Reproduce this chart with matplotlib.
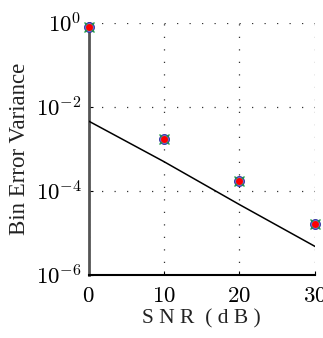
import numpy as np
import matplotlib
matplotlib.use("Agg")
import matplotlib.pyplot as plt

# data
snr = [0, 10, 20, 30]
variance = [0.80, 1.7e-3, 1.7e-4, 1.67e-5]
bound = [4.6e-3, 5.0e-4, 4.8e-5, 4.9e-6]

plt.rcParams['mathtext.fontset'] = 'cm'
plt.rcParams['font.family'] = ['Liberation Serif', 'DejaVu Serif']

fig = plt.figure(figsize=(3.23, 3.38), dpi=100)
ax = fig.add_axes([0.2746, 0.1855, 0.6997, 0.7473])

ax.semilogy(snr, bound, color='black', lw=1.1, zorder=3)
ax.semilogy(snr, variance, 'o', ms=7, mfc='#8080d0', mec='#3030a0', mew=0.8,
            linestyle='none', zorder=4, clip_on=False)
ax.semilogy(snr, variance, 'x', ms=7, mec='#20a040', mew=1.0,
            linestyle='none', zorder=5, clip_on=False)
ax.semilogy(snr, variance, 'o', ms=4, mfc='red', mec='red',
            linestyle='none', zorder=6, clip_on=False)

ax.set_xlim(0, 30)
ax.set_ylim(1e-6, 1e0)
ax.set_xticks([0, 10, 20, 30])
ax.set_yticks([1e-6, 1e-4, 1e-2, 1e0])
ax.set_yticklabels([r'$10^{-6}$', r'$10^{-4}$', r'$10^{-2}$', r'$10^{0}$'])
ax.set_xticklabels(['$0$', '$10$', '$20$', '$30$'])
ax.minorticks_off()

ax.grid(True, which='major', color='#333333', linestyle=(0, (1, 9)), lw=0.9)
ax.spines['top'].set_visible(False)
ax.spines['right'].set_visible(False)
ax.spines['left'].set_color('#555555')
ax.spines['left'].set_linewidth(2.0)
ax.spines['bottom'].set_linewidth(1.5)
ax.tick_params(direction='in', length=3, labelsize=16.5)
ax.tick_params(axis='x', pad=8)
ax.tick_params(axis='y', pad=5)

ax.set_xlabel('S N R  ( d B )', fontsize=15.5, color='#222222', labelpad=1)
ax.set_ylabel('Bin Error Variance', fontsize=16.5, color='#222222', labelpad=4)

fig.savefig('out.png', dpi=100)
